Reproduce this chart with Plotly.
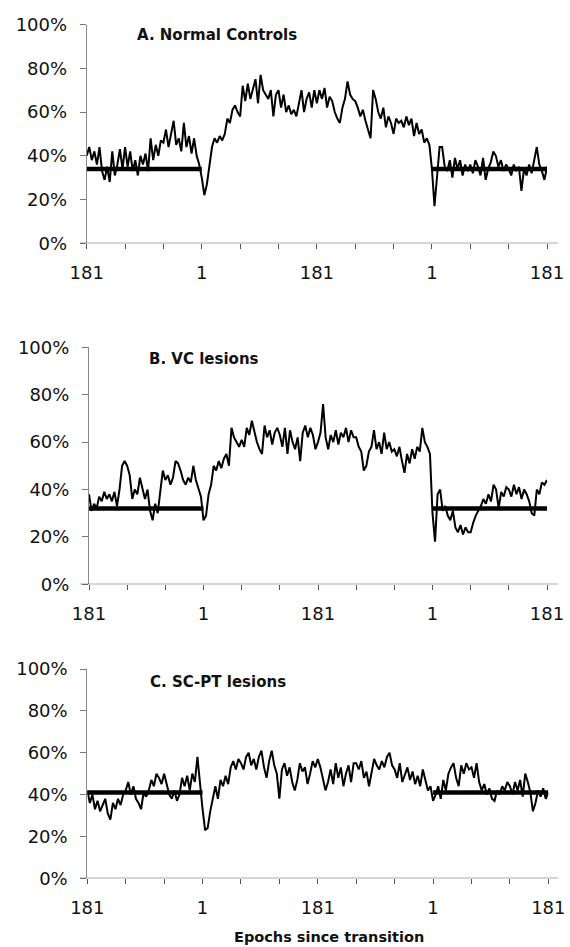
import plotly.graph_objects as go

# ---------------- data ----------------
STEP = 4  # epochs between sampled points
epoch_pos = list(range(0, 721, STEP))  # position along the four 180-epoch blocks

normal_controls = [
    40, 44, 38, 42, 36, 44, 33, 29, 35, 28, 42, 31, 36, 43, 34,
    44, 35, 42, 33, 38, 31, 40, 36, 41, 33, 48, 38, 45, 40, 47,
    46, 52, 44, 50, 56, 45, 48, 42, 55, 44, 49, 41, 48, 40, 36,
    30, 22, 27, 36, 44, 48, 46, 49, 47, 50, 57, 55, 61, 63, 60,
    58, 72, 65, 73, 66, 70, 75, 64, 77, 70, 68, 66, 70, 58, 68,
    70, 62, 68, 60, 63, 59, 61, 58, 65, 70, 60, 66, 69, 62, 70,
    64, 70, 66, 71, 62, 67, 65, 60, 57, 55, 62, 66, 74, 68, 66,
    65, 62, 58, 61, 56, 52, 48, 70, 66, 60, 57, 62, 53, 58, 55,
    50, 57, 55, 56, 53, 58, 54, 57, 49, 55, 50, 52, 46, 48, 45,
    34, 17, 30, 44, 44, 35, 33, 38, 30, 39, 34, 38, 31, 36, 33,
    36, 32, 38, 35, 31, 39, 29, 34, 37, 42, 40, 35, 38, 33, 36,
    34, 31, 36, 33, 35, 24, 34, 31, 36, 32, 38, 44, 36, 33, 29,
    35,
]

vc_lesions = [
    38, 31, 34, 32, 37, 35, 39, 36, 38, 35, 39, 33, 40, 50, 52,
    50, 46, 36, 40, 38, 45, 40, 36, 40, 31, 27, 34, 30, 38, 48,
    44, 46, 42, 45, 52, 51, 48, 44, 42, 45, 43, 50, 44, 40, 37,
    27, 29, 38, 42, 50, 48, 52, 49, 53, 55, 50, 66, 62, 60, 58,
    61, 58, 66, 63, 69, 64, 60, 57, 55, 67, 62, 65, 59, 64, 66,
    63, 58, 66, 55, 65, 60, 57, 62, 52, 64, 67, 62, 66, 63, 57,
    60, 64, 76, 62, 57, 63, 60, 65, 59, 64, 62, 66, 60, 65, 62,
    62, 58, 56, 48, 50, 56, 58, 65, 57, 60, 55, 64, 57, 60, 56,
    57, 54, 58, 52, 47, 55, 51, 57, 53, 58, 56, 66, 60, 58, 55,
    30, 18, 38, 40, 31, 33, 29, 27, 31, 24, 22, 25, 21, 24, 22,
    22, 26, 29, 31, 33, 36, 34, 38, 35, 42, 40, 32, 39, 37, 41,
    40, 37, 42, 38, 41, 36, 40, 38, 35, 30, 29, 40, 38, 43, 42,
    44,
]

scpt_lesions = [
    42, 36, 40, 33, 37, 32, 35, 38, 31, 28, 36, 33, 38, 35, 40,
    42, 46, 40, 44, 38, 36, 33, 41, 39, 42, 47, 44, 50, 48, 45,
    50, 45, 40, 38, 42, 37, 40, 48, 44, 49, 42, 50, 46, 58, 45,
    33, 23, 24, 32, 39, 44, 38, 47, 44, 49, 45, 53, 56, 52, 57,
    55, 52, 58, 60, 54, 57, 52, 58, 61, 53, 48, 56, 61, 54, 50,
    38, 52, 55, 49, 53, 46, 42, 47, 55, 51, 53, 45, 50, 56, 53,
    57, 53, 48, 42, 46, 52, 45, 55, 48, 53, 44, 50, 54, 46, 55,
    55, 52, 56, 48, 51, 44, 50, 57, 54, 52, 56, 53, 58, 60, 54,
    52, 48, 55, 46, 50, 53, 47, 51, 45, 49, 44, 52, 47, 42, 44,
    37, 40, 44, 38, 47, 42, 50, 53, 55, 48, 44, 54, 50, 55, 52,
    53, 48, 55, 46, 42, 45, 40, 43, 38, 37, 42, 40, 44, 42, 46,
    44, 40, 46, 42, 47, 39, 50, 46, 41, 32, 36, 42, 39, 43, 38,
    41,
]

baseline_levels = [34, 32, 41]
baseline_spans = [(0, 180), (540, 720)]
panel_titles = ["A. Normal Controls", "B. VC lesions", "C. SC-PT lesions"]
x_tick_pos = list(range(0, 721, 60))
x_tick_text = ["181", "", "", "1", "", "", "181", "", "", "1", "", "", "181"]
y_tick_vals = [0, 20, 40, 60, 80, 100]
y_tick_text = ["0%", "20%", "40%", "60%", "80%", "100%"]
x_title = "Epochs since transition"

series = [normal_controls, vc_lesions, scpt_lesions]

# ---------------- layout geometry (pixels) ----------------
W, H = 570, 947
# (plot left, plot right, y of 0%, y of 100%, title left, title centre y)
panels = [
    (86.7, 547.0, 243.3, 24.5, 135, 35),
    (89.0, 547.0, 584.3, 347.3, 147, 359),
    (87.3, 548.3, 878.3, 669.0, 148, 682),
]
AXIS_LEFT_PX, AXIS_RIGHT_PX = 80, 558

TICK_FONT = dict(family="DejaVu Sans", size=18, color="#111")
TITLE_FONT = dict(family="DejaVu Sans", size=15, color="#111", weight="bold")
XTITLE_FONT = dict(family="DejaVu Sans", size=14.5, color="#111", weight="bold")

fig = go.Figure()
layout = dict(
    width=W, height=H,
    margin=dict(l=0, r=0, t=0, b=0, pad=0, autoexpand=False),
    paper_bgcolor="white", plot_bgcolor="white",
    showlegend=False,
)
shapes, annotations = [], []

for i, (vals, base, (xl, xr, y0, y100, tx, ty)) in enumerate(zip(series, baseline_levels, panels)):
    n = "" if i == 0 else str(i + 1)
    xa, ya = "x" + n, "y" + n
    fig.add_trace(go.Scatter(
        x=epoch_pos, y=vals, mode="lines",
        line=dict(color="black", width=2),
        xaxis=xa, yaxis=ya, hoverinfo="skip",
    ))
    for (a, b) in baseline_spans:
        fig.add_trace(go.Scatter(
            x=[a, b], y=[base, base], mode="lines",
            line=dict(color="black", width=4.5),
            xaxis=xa, yaxis=ya, hoverinfo="skip",
        ))
    layout["xaxis" + n] = dict(
        domain=[xl / W, xr / W], range=[0, 720], anchor=ya, automargin=False,
        showline=False, showgrid=False, zeroline=False,
        tickmode="array", tickvals=x_tick_pos, ticktext=x_tick_text,
        ticks="outside", ticklen=5, tickcolor="#555", tickwidth=1,
        tickfont=TICK_FONT, ticklabelstandoff=8, fixedrange=True,
    )
    layout["yaxis" + n] = dict(
        domain=[(H - y0) / H, (H - y100) / H], range=[0, 100], anchor=xa,
        automargin=False,
        showline=True, linecolor="#8a8a8a", linewidth=1,
        showgrid=False, zeroline=False,
        tickmode="array", tickvals=y_tick_vals, ticktext=y_tick_text,
        ticks="outside", ticklen=6, tickcolor="#777", tickwidth=1,
        tickfont=TICK_FONT, ticklabelstandoff=9, fixedrange=True,
    )
    span = xr - xl
    shapes.append(dict(
        type="line", xref=xa + " domain", yref=ya,
        x0=-(xl - AXIS_LEFT_PX) / span, x1=1 + (AXIS_RIGHT_PX - xr) / span,
        y0=0, y1=0, line=dict(color="#333", width=1),
    ))
    annotations.append(dict(
        text=panel_titles[i], xref="paper", yref="paper",
        x=tx / W, y=(H - ty) / H, xanchor="left", yanchor="middle",
        showarrow=False, font=TITLE_FONT,
    ))

annotations.append(dict(
    text=x_title, xref="paper", yref="paper",
    x=329 / W, y=0, xanchor="center", yanchor="bottom",
    showarrow=False, font=XTITLE_FONT,
))

layout["shapes"] = shapes
layout["annotations"] = annotations
fig.update_layout(**layout)
fig.write_html(
    "out.html",
    config={"displayModeBar": False},
    post_script="document.body.style.margin='0';",
)
